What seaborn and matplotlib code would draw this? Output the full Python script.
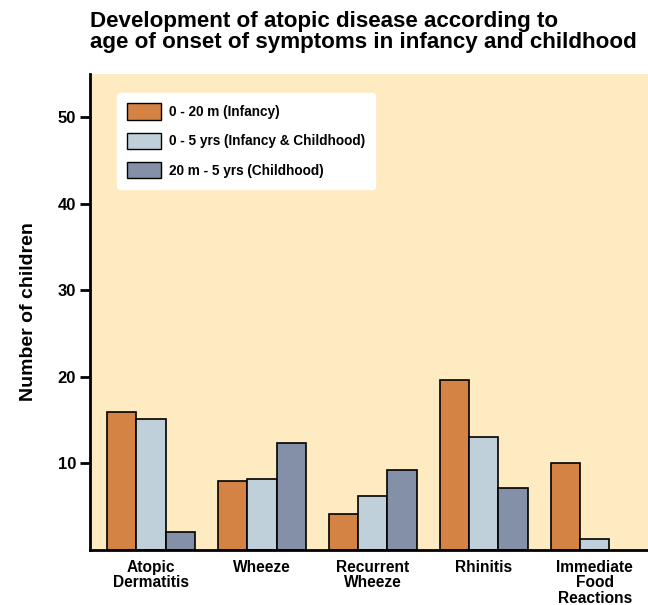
import matplotlib
matplotlib.use("Agg")
import matplotlib.pyplot as plt
import seaborn as sns
import pandas as pd
from matplotlib.patches import Patch

# Data
categories = ["Atopic\nDermatitis", "Wheeze", "Recurrent\nWheeze", "Rhinitis",
              "Immediate\nFood\nReactions"]
series = ["0 - 20 m (Infancy)", "0 - 5 yrs (Infancy & Childhood)",
          "20 m - 5 yrs (Childhood)"]
infancy = [16.0, 8.0, 4.2, 19.7, 10.0]
infancy_childhood = [15.1, 8.2, 6.2, 13.1, 1.3]
childhood = [2.1, 12.4, 9.3, 7.2, 0.0]
yticks = [10, 20, 30, 40, 50]

colors = ["#D58345", "#BFD0DB", "#8390A7"]
bg = "#FEEBC1"

df = pd.DataFrame({
    "category": categories * 3,
    "group": [series[0]] * 5 + [series[1]] * 5 + [series[2]] * 5,
    "value": infancy + infancy_childhood + childhood,
})

sns.set_theme(style="white")
plt.rcParams["font.family"] = ["Liberation Sans", "DejaVu Sans"]
plt.rcParams["text.color"] = "black"
plt.rcParams["axes.labelcolor"] = "black"
plt.rcParams["xtick.color"] = "black"
plt.rcParams["ytick.color"] = "black"

fig = plt.figure(figsize=(6.48, 6.05), dpi=100)
ax = fig.add_axes([0.1389, 0.0909, 0.8611, 0.7868])
ax.set_facecolor(bg)

sns.barplot(data=df, x="category", y="value", hue="group", order=categories,
            hue_order=series, palette=colors, width=0.79, saturation=1,
            edgecolor="black", linewidth=1.2, errorbar=None, legend=False, ax=ax)

# drop zero-height bars
for p in ax.patches:
    if p.get_height() == 0:
        p.set_visible(False)

ax.set_xlim(-0.55, 4.48)
ax.set_ylim(0, 55)
ax.set_yticks(yticks)
ax.set_yticklabels([str(t) for t in yticks], fontsize=12, fontweight="bold")
ax.set_xticklabels(categories, fontsize=11.2, fontweight="bold", linespacing=1.05)
ax.tick_params(axis="y", length=7, width=2, color="black", pad=3, left=True)
ax.tick_params(axis="x", length=0, pad=7)
ax.set_xlabel("")
ax.set_ylabel("Number of children", fontsize=14, fontweight="bold", labelpad=15)

for s in ["top", "right"]:
    ax.spines[s].set_visible(False)
for s in ["left", "bottom"]:
    ax.spines[s].set_color("black")
    ax.spines[s].set_linewidth(2)

handles = [Patch(facecolor=c, edgecolor="black", linewidth=1.0) for c in colors]
leg = ax.legend(handles, series, loc="upper left", bbox_to_anchor=(0.048, 0.96),
                borderaxespad=0, frameon=True, fancybox=True, framealpha=1,
                facecolor="white", edgecolor="white",
                prop={"weight": "bold", "size": 9.8},
                handlelength=2.5, handleheight=1.5, borderpad=0.75,
                labelspacing=0.93, handletextpad=0.55)

fig.text(0.1389, 0.982, "Development of atopic disease according to\n"
         "age of onset of symptoms in infancy and childhood",
         ha="left", va="top", fontsize=16.1, fontweight="bold", linespacing=0.98,
         family=["Liberation Sans Narrow", "Liberation Sans", "DejaVu Sans"])

fig.savefig("out.png", dpi=100)
